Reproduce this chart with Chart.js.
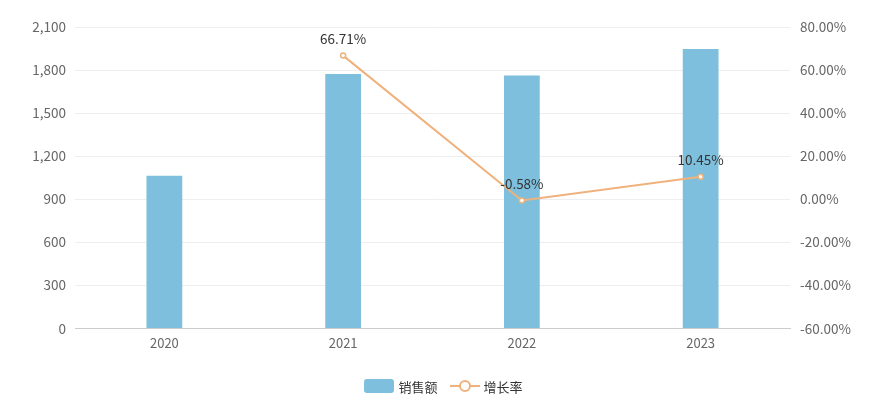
<!DOCTYPE html>
<html><head><meta charset="utf-8">
<script src="https://cdn.jsdelivr.net/npm/chart.js@4/dist/chart.umd.min.js"></script>
<style>
html,body{margin:0;padding:0;background:#fff}
#w{position:relative;width:887px;height:400px}
#c{position:absolute;left:0;top:0}
#lg{position:absolute;left:0;top:376px;width:887px;height:20px;display:flex;justify-content:center;align-items:center;font:13px "Noto Sans CJK SC","Noto Sans",sans-serif;color:#333}
#lg .it{display:flex;align-items:center;margin:0 6px}
#lg .it span{margin-left:4px}
#lg canvas{display:block}
</style>
</head><body><div id="w"><canvas id="c" width="887" height="400"></canvas><div id="lg"></div></div>
<script>
const categories = ['2020','2021','2022','2023'];
const sales = [1063, 1772, 1762, 1946];
const growth = [null, 66.71, -0.58, 10.45];
const leftTicks = [0,300,600,900,1200,1500,1800,2100];
const rightTicks = [-60,-40,-20,0,20,40,60,80];
const seriesNames = ['销售额','增长率'];

const FONT = '"Noto Sans CJK SC", "Noto Sans", sans-serif';
const BAR = '#7dbfdc', LINE = '#f0b27c';

function mkBarIcon(){const c=document.createElement('canvas');c.width=30;c.height=14;const x=c.getContext('2d');x.fillStyle=BAR;x.beginPath();x.roundRect(0,0,30,14,3);x.fill();return c;}
function mkLineIcon(){const c=document.createElement('canvas');c.width=30;c.height=14;const x=c.getContext('2d');x.strokeStyle=LINE;x.lineWidth=2;x.beginPath();x.moveTo(0,7);x.lineTo(30,7);x.stroke();x.fillStyle='#fff';x.beginPath();x.arc(15,7,5,0,Math.PI*2);x.fill();x.stroke();return c;}

const labelPlugin = {id:'lbl',afterDatasetsDraw(chart){
  const ctx=chart.ctx;const meta=chart.getDatasetMeta(1);
  ctx.save();ctx.font='13.5px '+FONT;ctx.fillStyle='#333';ctx.textAlign='center';ctx.textBaseline='middle';
  meta.data.forEach((p,i)=>{const v=growth[i];if(v===null)return;ctx.fillText(v.toFixed(2)+'%',p.x,p.y-17);});
  ctx.restore();}};

const chart = new Chart(document.getElementById('c'),{
  data:{labels:categories,datasets:[
    {type:'bar',label:seriesNames[0],data:sales,backgroundColor:BAR,yAxisID:'y',categoryPercentage:1,barPercentage:0.2,order:2},
    {type:'line',label:seriesNames[1],data:growth,borderColor:LINE,borderWidth:2,pointRadius:2.5,pointBackgroundColor:'#fff',pointBorderColor:LINE,pointBorderWidth:1.5,yAxisID:'y1',tension:0,order:1}
  ]},
  options:{responsive:false,animation:false,
    layout:{padding:{top:27,bottom:50}},
    plugins:{tooltip:{enabled:false},legend:{display:false}},
    scales:{
      x:{grid:{display:false},border:{color:'#ccc'},ticks:{font:{family:FONT,size:13},color:'#666',padding:-1}},
      y:{position:'left',min:0,max:2100,afterBuildTicks(s){s.ticks=leftTicks.map(v=>({value:v}));},
        afterFit(s){s.width=75;},
        grid:{color:'#eeeeee',drawTicks:false},border:{display:false},
        ticks:{font:{family:FONT,size:13.5},color:'#666',padding:9,callback:v=>v.toLocaleString('en-US')}},
      y1:{position:'right',min:-60,max:80,afterBuildTicks(s){s.ticks=rightTicks.map(v=>({value:v}));},
        afterFit(s){s.width=97;},
        grid:{display:false,drawTicks:false},border:{display:false},
        ticks:{font:{family:FONT,size:13.5},color:'#666',padding:10,callback:v=>v.toFixed(2)+'%'}}
    }},
  plugins:[labelPlugin]
});

// legend built from the chart's datasets
const lg=document.getElementById('lg');
chart.data.datasets.forEach((ds,i)=>{
  const it=document.createElement('div');it.className='it';
  it.appendChild(i===0?mkBarIcon():mkLineIcon());
  const s=document.createElement('span');s.textContent=ds.label;it.appendChild(s);
  lg.appendChild(it);
});
</script></body></html>
